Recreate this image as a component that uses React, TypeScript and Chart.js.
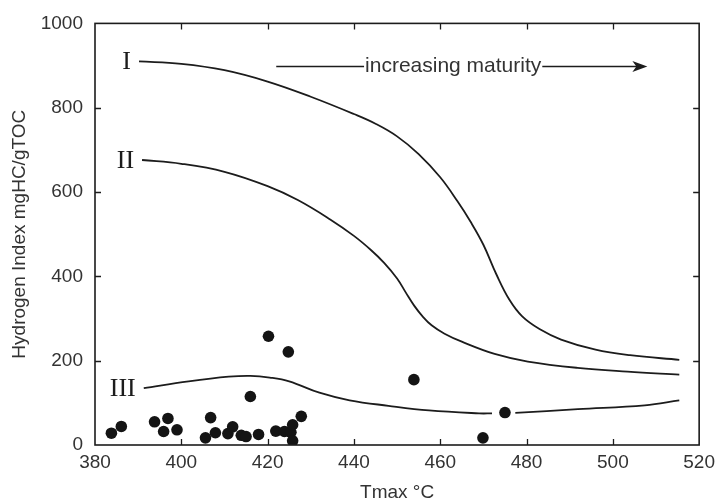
import { useEffect, useRef } from "react";
import { Chart, registerables } from "chart.js";

Chart.register(...registerables);

// ---- data ----
const xTicks = [380, 400, 420, 440, 460, 480, 500, 520];
const yTicks = [0, 200, 400, 600, 800, 1000];

const curveLabels = ["I", "II", "III"];

const curveIx = [390.2, 400, 410, 420, 430, 440, 445, 450, 455, 460, 464, 467, 470, 473, 476, 479, 483, 488, 496, 504, 515.4];
const curveIy = [910, 904, 889, 862, 826, 785, 762, 732, 690, 635, 578, 530, 475, 405, 345, 305, 275, 250, 226, 213, 202];

const curveIIx = [390.9, 400, 410, 420, 427, 434.5, 440, 444, 447, 450, 452, 454, 456, 458, 461, 465, 472.6, 480.3, 491.8, 503.4, 515.4];
const curveIIy = [676, 667, 648, 614, 581, 535, 496, 462, 432, 395, 362, 330, 304, 284, 264, 245, 216, 198, 183, 174, 167];

const curveIIIx = [391.3, 401.7, 411, 416, 420.5, 425, 432, 439, 448, 457.4, 469, 472, 474.7, 477.4, 491.9, 507.4, 515.4];
const curveIIIy: (number | null)[] = [135, 151, 162, 164, 160, 151, 124, 106, 93, 82, 75, 75, null, 76, 85, 94, 106];

const sampleTmax = [383.8, 386.1, 393.8, 395.9, 396.9, 399.0, 405.6, 406.8, 407.9, 410.8, 411.9, 413.9, 415.0, 416.0, 417.9, 420.2, 421.9, 423.9, 424.8, 425.4, 425.8, 425.8, 427.8, 453.9, 469.9, 475.0];
const sampleHI = [28, 44, 55, 32, 63, 36, 17, 65, 29, 27, 43, 23, 20, 115, 25, 258, 33, 32, 221, 30, 48, 10, 68, 155, 17, 77];

const arrowText = "increasing maturity";
const arrowFromX = 422;
const arrowToX = 508;
const arrowTextX = 463;
const arrowY = 900;

// ---- helpers ----
const pts = (xs: number[], ys: (number | null)[]) => xs.map((x, i) => ({ x, y: ys[i] }));

const INK = "#1c1c1c";
const TEXT = "#333333";
const SANS = "'Liberation Sans', Arial, sans-serif";
const SERIF = "'Liberation Serif', 'Times New Roman', serif";

const decorPlugin = {
  id: "decor",
  afterDatasetsDraw(chart: any) {
    const { ctx, chartArea } = chart;
    const xs = chart.scales.x;
    const ys = chart.scales.y;
    const { left, right, top, bottom } = chartArea;
    ctx.save();
    // frame
    ctx.strokeStyle = INK;
    ctx.lineWidth = 1.6;
    ctx.strokeRect(left, top, right - left, bottom - top);
    // inward ticks
    const tl = 6;
    ctx.lineWidth = 1.3;
    ctx.beginPath();
    xTicks.slice(1, -1).forEach((v) => {
      const px = Math.round(xs.getPixelForValue(v)) + 0.5;
      ctx.moveTo(px, bottom);
      ctx.lineTo(px, bottom - tl);
      ctx.moveTo(px, top);
      ctx.lineTo(px, top + tl);
    });
    yTicks.slice(1, -1).forEach((v) => {
      const py = Math.round(ys.getPixelForValue(v)) + 0.5;
      ctx.moveTo(left, py);
      ctx.lineTo(left + tl, py);
      ctx.moveTo(right, py);
      ctx.lineTo(right - tl, py);
    });
    ctx.stroke();

    // curve labels
    ctx.fillStyle = INK;
    ctx.font = `26px ${SERIF}`;
    ctx.textAlign = "right";
    ctx.textBaseline = "middle";
    const firsts = [
      [curveIx[0], curveIy[0]],
      [curveIIx[0], curveIIy[0]],
      [curveIIIx[0], curveIIIy[0] as number],
    ];
    firsts.forEach(([x, y], i) => {
      ctx.fillText(curveLabels[i], xs.getPixelForValue(x) - 8, ys.getPixelForValue(y) + 1);
    });

    // arrow annotation
    ctx.font = `21px ${SANS}`;
    ctx.textAlign = "center";
    const ay = Math.round(ys.getPixelForValue(arrowY)) + 0.5;
    const tx = xs.getPixelForValue(arrowTextX);
    const tw = ctx.measureText(arrowText).width;
    ctx.fillStyle = TEXT;
    ctx.fillText(arrowText, tx, ay);
    const x0 = xs.getPixelForValue(arrowFromX);
    const x1 = xs.getPixelForValue(arrowToX);
    ctx.strokeStyle = INK;
    ctx.lineWidth = 1.4;
    ctx.beginPath();
    ctx.moveTo(x0, ay);
    ctx.lineTo(tx - tw / 2 - 1, ay);
    ctx.moveTo(tx + tw / 2 + 1, ay);
    ctx.lineTo(x1 - 8, ay);
    ctx.stroke();
    ctx.fillStyle = INK;
    ctx.beginPath();
    ctx.moveTo(x1, ay);
    ctx.lineTo(x1 - 15, ay - 5.5);
    ctx.lineTo(x1 - 11, ay);
    ctx.lineTo(x1 - 15, ay + 5.5);
    ctx.closePath();
    ctx.fill();
    ctx.restore();
  },
};

const lineDs = (label: string, data: any[]) => ({
  type: "line" as const,
  label,
  data,
  borderColor: INK,
  borderWidth: 1.8,
  pointRadius: 0,
  fill: false,
  spanGaps: false,
  tension: 0.4,
});

export default function App() {
  const ref = useRef<HTMLCanvasElement>(null);
  useEffect(() => {
    const chart = new Chart(ref.current as HTMLCanvasElement, {
      type: "scatter",
      data: {
        datasets: [
          lineDs(curveLabels[0], pts(curveIx, curveIy)),
          lineDs(curveLabels[1], pts(curveIIx, curveIIy)),
          lineDs(curveLabels[2], pts(curveIIIx, curveIIIy)),
          {
            type: "scatter" as const,
            label: "samples",
            data: pts(sampleTmax, sampleHI),
            pointRadius: 5.8,
            pointBackgroundColor: "#141414",
            pointBorderWidth: 0,
          },
        ] as any,
      },
      options: {
        animation: false,
        responsive: false,
        layout: { padding: { top: 15, right: 20, left: 0, bottom: 0 } },
        plugins: { legend: { display: false }, tooltip: { enabled: false } },
        scales: {
          x: {
            type: "linear",
            min: 380,
            max: 520,
            afterBuildTicks: (s: any) => {
              s.ticks = xTicks.map((v) => ({ value: v }));
            },
            afterFit: (s: any) => {
              s.height = 56;
            },
            ticks: {
              color: TEXT,
              font: { family: SANS, size: 19 },
              padding: 6,
              maxRotation: 0,
              callback: (v: any) => String(v),
            },
            grid: { display: false, drawTicks: false },
            border: { display: false },
            title: {
              display: true,
              text: "Tmax °C",
              color: TEXT,
              font: { family: SANS, size: 19 },
              padding: { top: 0, bottom: -3 },
            },
          },
          y: {
            type: "linear",
            min: 0,
            max: 1000,
            afterBuildTicks: (s: any) => {
              s.ticks = yTicks.map((v) => ({ value: v }));
            },
            afterFit: (s: any) => {
              s.width = 95;
            },
            ticks: {
              color: TEXT,
              font: { family: SANS, size: 19 },
              padding: 12,
              callback: (v: any) => String(v),
            },
            grid: { display: false, drawTicks: false },
            border: { display: false },
            title: {
              display: true,
              text: "Hydrogen Index mgHC/gTOC",
              color: TEXT,
              font: { family: SANS, size: 19 },
              padding: { top: 8, bottom: 0 },
            },
          },
        },
      },
      plugins: [decorPlugin],
    });
    return () => chart.destroy();
  }, []);
  return (
    <div style={{ position: "fixed", left: 0, top: 0, width: 721, height: 501, background: "#fff" }}>
      <canvas ref={ref} width={721} height={501} style={{ width: 721, height: 501, display: "block" }} />
    </div>
  );
}
